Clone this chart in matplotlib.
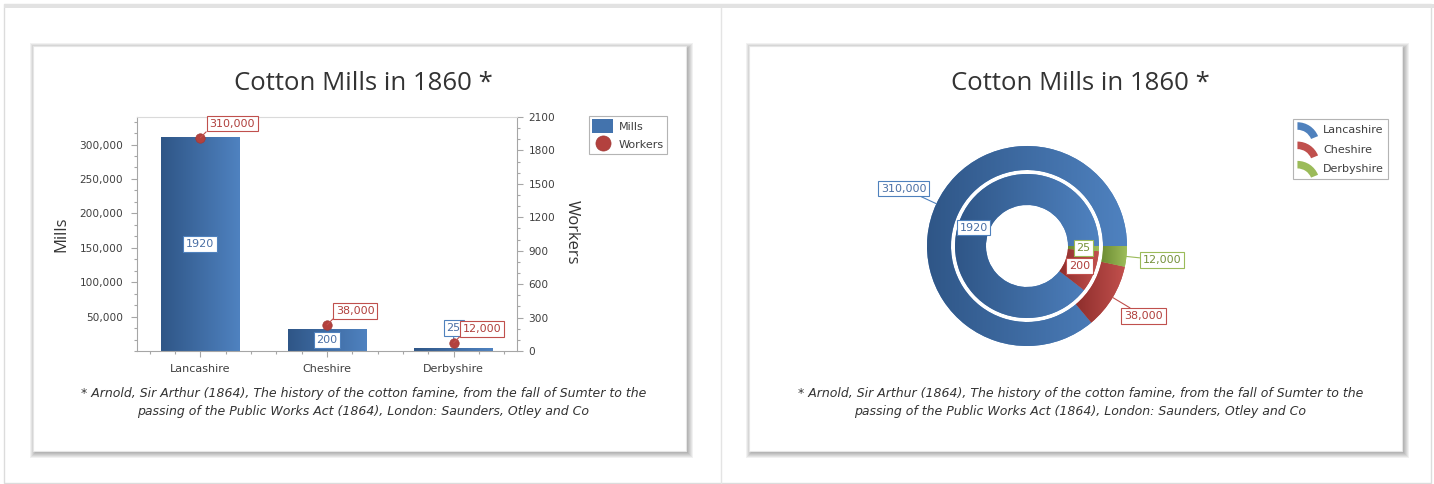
import numpy as np
import matplotlib
matplotlib.use('Agg')
import matplotlib.pyplot as plt
from matplotlib.patches import Rectangle, Wedge
from matplotlib.lines import Line2D
from matplotlib.colors import LinearSegmentedColormap
from matplotlib.legend_handler import HandlerBase
from matplotlib.ticker import FuncFormatter, FixedLocator

# ---------------- data ----------------
categories = ['Lancashire', 'Cheshire', 'Derbyshire']
mills = [1920, 200, 25]
workers = [310000, 38000, 12000]
mills_axis_ticks = [0, 300, 600, 900, 1200, 1500, 1800, 2100]
workers_axis_ticks = [50000, 100000, 150000, 200000, 250000, 300000]
chart_title = 'Cotton Mills in 1860 *'
footnote = ['* Arnold, Sir Arthur (1864), The history of the cotton famine, from the fall of Sumter to the',
            'passing of the Public Works Act (1864), London: Saunders, Otley and Co']

# ---------------- styles ----------------
W, H = 1434, 484
BLUE_G = ['#2f5687', '#4f82c0']
RED_G = ['#8e2e2c', '#c2504d']
GREEN_G = ['#6c8b32', '#9dbd5a']
BASE = ['#4f81bd', '#c0504d', '#9bbb59']
TEXTC = ['#4a6fa5', '#b0403d', '#76923c']
AXC = '#a6a6a6'
TXT = '#3f3f3f'

fig = plt.figure(figsize=(W / 100, H / 100), dpi=100)
fig.patch.set_facecolor('white')


def fx(x):
    return x / W


def fy(y):
    return 1 - y / H


def frect(x0, y0, x1, y1):
    return [x0 / W, 1 - y1 / H, (x1 - x0) / W, (y1 - y0) / H]


def add_rect(x0, y0, x1, y1, **kw):
    r = Rectangle((fx(x0), fy(y1)), (x1 - x0) / W, (y1 - y0) / H,
                  transform=fig.transFigure, **kw)
    fig.add_artist(r)
    return r


def grad_fill(ax, patch, colors, bbox):
    cmap = LinearSegmentedColormap.from_list('g', colors)
    g = np.linspace(0, 1, 256).reshape(1, -1)
    im = ax.imshow(g, cmap=cmap, extent=(bbox.x0, bbox.x1, bbox.y0, bbox.y1),
                   aspect='auto', interpolation='bilinear', origin='lower',
                   zorder=patch.get_zorder() + 0.1)
    im.set_clip_path(patch)
    return im


# outer frame
add_rect(4, 4, 1431, 483, fill=False, ec='#dcdcdc', lw=1, zorder=-20)
add_rect(4, 4, 1434, 8, fc='#e2e2e2', ec='none', zorder=-19)
fig.add_artist(Line2D([fx(720.5)] * 2, [fy(8), fy(483)], transform=fig.transFigure,
                      color='#e4e4e4', lw=1, zorder=-19))

cards = [(33, 46, 686, 451), (749, 46, 1402, 451)]
for (x0, y0, x1, y1) in cards:
    for s in range(7, 0, -1):
        add_rect(x0 + 4 - s, y0 + 4 - s, x1 + s, y1 + s, fc='black', ec='none',
                 alpha=0.055, zorder=-15)
    add_rect(x0, y0, x1, y1, fc='white', ec='#e6e6e6', lw=0.8, zorder=-10)

# ================= left: bar + point chart =================
ax = fig.add_axes(frect(137, 117, 517, 351))
ax2 = ax.twinx()
xpos = np.arange(len(categories))

bars = ax2.bar(xpos, mills, width=0.62, color='#4373ad', ec='none', zorder=2)
for b in bars:
    grad_fill(ax2, b, BLUE_G, b.get_bbox())
pts, = ax.plot(xpos, workers, 'o', color='#b3413e', ms=6.8, mec='#a03a37', mew=0.5,
               zorder=5)

ax.set_xlim(-0.5, 2.5)
ax.set_ylim(0, 340000)
ax2.set_ylim(0, 2100)
ax.set_zorder(ax2.get_zorder() + 1)
ax.patch.set_visible(False)

ax.set_xticks(xpos)
ax.set_xticklabels(categories)
ax.set_xticks(np.arange(-0.4, 2.41, 0.2), minor=True)
ax.set_yticks(workers_axis_ticks)
ax.yaxis.set_major_formatter(FuncFormatter(lambda v, p: f'{int(round(v)):,}'))
ax.yaxis.set_minor_locator(FixedLocator(np.arange(0, 340001, 50000 / 3)))
ax2.set_yticks(mills_axis_ticks)
ax2.yaxis.set_minor_locator(FixedLocator(np.arange(0, 2101, 100)))

for s in ['left', 'bottom']:
    ax.spines[s].set_color(AXC)
ax.spines['top'].set_color('#dadada')
ax.spines['right'].set_visible(False)
for s in ['left', 'bottom', 'top']:
    ax2.spines[s].set_visible(False)
ax2.spines['right'].set_color(AXC)

ax.tick_params(axis='x', which='major', length=4.5, width=0.8, color=AXC, labelsize=8,
               labelcolor=TXT, pad=4.5)
ax.tick_params(axis='x', which='minor', length=2.5, width=0.8, color=AXC)
ax.tick_params(axis='y', which='major', length=4, width=0.8, color=AXC, labelsize=7.6,
               labelcolor=TXT, pad=6)
ax.tick_params(axis='y', which='minor', length=2.3, width=0.8, color=AXC)
ax2.tick_params(axis='y', which='major', length=4, width=0.8, color=AXC, labelsize=7.6,
                labelcolor=TXT, pad=4.3)
ax2.tick_params(axis='y', which='minor', length=2.3, width=0.8, color=AXC)

# bar labels (mills)
for xi, m in zip(xpos, mills):
    bb = dict(boxstyle='square,pad=0.25', fc='white', ec=BASE[0], lw=0.8)
    if m > 2100 * 0.07:
        ax2.annotate(f'{m}', (xi, m / 2), ha='center', va='center', fontsize=8,
                     color=TEXTC[0], bbox=bb, zorder=6)
    else:
        ax2.annotate(f'{m}', (xi, m), xytext=(0, 20), textcoords='offset pixels',
                     ha='center', va='center', fontsize=8, color=TEXTC[0], bbox=bb,
                     arrowprops=dict(arrowstyle='-', color=BASE[0], lw=0.8,
                                     shrinkA=0, shrinkB=0), zorder=6)

# point labels (workers)
for xi, wv in zip(xpos, workers):
    ax.annotate(f'{wv:,}', (xi, wv), xytext=(9, 9), textcoords='offset pixels',
                ha='left', va='bottom', fontsize=8, color=TEXTC[1],
                bbox=dict(boxstyle='square,pad=0.25', fc='white', ec=BASE[1], lw=0.8),
                arrowprops=dict(arrowstyle='-', color=BASE[1], lw=0.8, shrinkA=0,
                                shrinkB=0, relpos=(0, 0)), zorder=7)

leg = ax.legend([bars, pts], ['Mills', 'Workers'], loc='upper left',
                bbox_to_anchor=(fx(589), fy(116)), bbox_transform=fig.transFigure,
                borderaxespad=0, frameon=True, fancybox=False, edgecolor='#b4b4b4',
                fontsize=8, handlelength=1.9, handleheight=1.45, handletextpad=0.5,
                borderpad=0.3, labelspacing=0.45, markerscale=1.6, framealpha=1)
leg.get_frame().set_linewidth(0.8)
for t in leg.get_texts():
    t.set_color(TXT)

# axis titles
fig.text(fx(61), fy(234), 'Mills', rotation=90, ha='center', va='center', fontsize=12,
         color='#333333', family='Open Sans')
fig.text(fx(571.5), fy(232.5), 'Workers', rotation=270, ha='center', va='center',
         fontsize=12, color='#333333', family='Open Sans')

# ================= right: donut chart =================
pax = fig.add_axes(frect(917, 136, 1137, 356))
wedges_o, _ = pax.pie(workers, radius=1.0, startangle=0, counterclock=True, colors=BASE,
                      wedgeprops=dict(width=0.24, edgecolor='none'))
wedges_i, _ = pax.pie(mills, radius=0.72, startangle=0, counterclock=True, colors=BASE,
                      wedgeprops=dict(width=0.31, edgecolor='none'))
grads = [BLUE_G, RED_G, GREEN_G]
for wl in (wedges_o, wedges_i):
    for w, gc in zip(wl, grads):
        grad_fill(pax, w, gc, w.get_path().get_extents())
pax.set_xlim(-1.1, 1.1)
pax.set_ylim(-1.1, 1.1)
pax.set_aspect('equal')
pax.axis('off')

for w, v, tc, ec in zip(wedges_o, workers, TEXTC, BASE):
    a = np.deg2rad((w.theta1 + w.theta2) / 2)
    pax.annotate(f'{v:,}', (np.cos(a), np.sin(a)), xytext=(1.36 * np.cos(a), 1.36 * np.sin(a)),
                 ha='center', va='center', fontsize=8, color=tc,
                 bbox=dict(boxstyle='square,pad=0.25', fc='white', ec=ec, lw=0.8),
                 arrowprops=dict(arrowstyle='-', color=ec, lw=0.8, shrinkA=0, shrinkB=0),
                 zorder=8)
for w, v, tc, ec in zip(wedges_i, mills, TEXTC, BASE):
    a = np.deg2rad((w.theta1 + w.theta2) / 2)
    pax.text(0.565 * np.cos(a), 0.565 * np.sin(a), f'{v}', ha='center', va='center',
             fontsize=8, color=tc, zorder=8,
             bbox=dict(boxstyle='square,pad=0.25', fc='white', ec=ec, lw=0.8))


class ArcHandler(HandlerBase):
    def create_artists(self, legend, orig_handle, xdescent, ydescent, width, height,
                       fontsize, trans):
        R = width
        cx = -xdescent
        top = -ydescent + height * 1.1
        w = Wedge((cx, top - R), R, 22, 90, width=R * 0.34,
                  facecolor=orig_handle.get_facecolor(), edgecolor='none',
                  transform=trans)
        return [w]


leg2 = pax.legend(wedges_o, categories, handler_map={Wedge: ArcHandler()},
                  loc='upper left', bbox_to_anchor=(fx(1293), fy(119)),
                  bbox_transform=fig.transFigure, borderaxespad=0, frameon=True,
                  fancybox=False, edgecolor='#b4b4b4', fontsize=8, handlelength=2.0,
                  handleheight=1.3, handletextpad=0.3, borderpad=0.4,
                  labelspacing=0.65, framealpha=1)
leg2.get_frame().set_linewidth(0.8)
for t in leg2.get_texts():
    t.set_color(TXT)

# ================= titles and footnotes =================
for cx in (363, 1080):
    fig.text(fx(cx), fy(84), chart_title, ha='center', va='center', fontsize=18.5,
             family='Open Sans', color='#333333')
    fig.text(fx(cx + 0.5), fy(393.3), footnote[0], ha='center', va='center',
             fontsize=9.0, style='italic', color='#333333', family='DejaVu Sans')
    fig.text(fx(cx + 0.5), fy(411.5), footnote[1], ha='center', va='center',
             fontsize=9.0, style='italic', color='#333333', family='DejaVu Sans')

fig.savefig('out.png', dpi=100, facecolor='white')
